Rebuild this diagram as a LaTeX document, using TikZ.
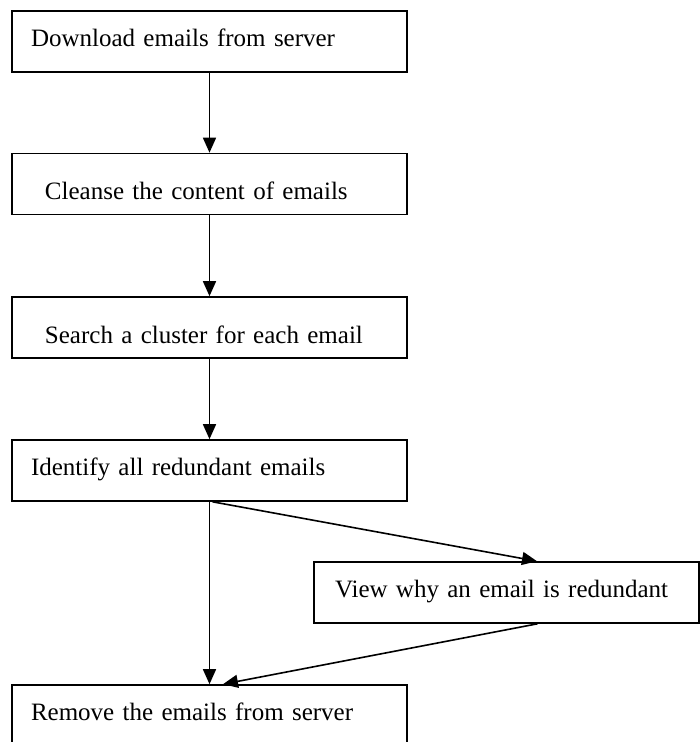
\documentclass[tikz,border=0pt]{standalone}
\usepackage{fontspec}
\setmainfont{Liberation Serif}
\usetikzlibrary{arrows.meta}
\begin{document}
\begin{tikzpicture}[x=1pt,y=1pt,
  stage/.style={draw, line width=1.6pt, inner ysep=0pt, align=left,
    font=\fontsize{25}{29}\selectfont},
  stagehigh/.style={stage, text height=36pt, text depth=25pt},
  stagelow/.style={stage, text height=46.5pt, text depth=14.5pt},
  flow/.style={-{Triangle[length=15pt,width=13pt]}, line width=1.6pt}]
  \useasboundingbox (0,0) rectangle (700,742);
  \node[stagehigh, text width=357pt, inner xsep=19pt](download) at (209.5,700.5) {Download emails from server};
  \node[stagelow, text width=329pt, inner xsep=33pt](cleanse) at (209.5,558) {Cleanse the content of emails};
  \node[stagelow, text width=329pt, inner xsep=33pt](search) at (209.5,414.5) {Search a cluster for each email};
  \node[stagehigh, text width=357pt, inner xsep=19pt](identify) at (209.5,271.5) {Identify all redundant emails};
  \node[stagehigh, text width=343pt, inner xsep=21pt](view) at (506.5,149.5) {View why an email is redundant};
  \node[stagehigh, text width=357pt, inner xsep=19pt](remove) at (209.5,26.5) {Remove the emails from server};
  \draw[flow](download)--(cleanse);
  \draw[flow](cleanse)--(search);
  \draw[flow](search)--(identify);
  \draw[flow](identify)--(remove);
  \draw[flow]([xshift=3pt]identify.south)--([xshift=30.5pt]view.north);
  \draw[flow]([xshift=31pt]view.south)--([xshift=13.5pt]remove.north);
\end{tikzpicture}
\end{document}
